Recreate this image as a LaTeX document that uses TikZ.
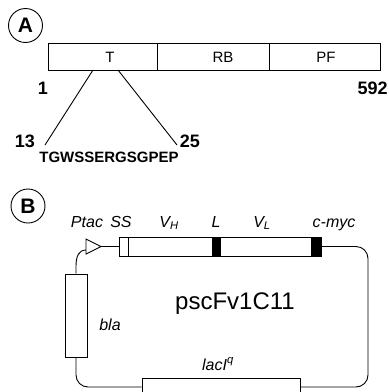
\documentclass[tikz,border=0pt]{standalone}
\usepackage{fontspec}
\setmainfont{Liberation Sans}
\usetikzlibrary{positioning,calc}

\begin{document}
\begin{tikzpicture}[x=1pt, y=-1pt, line width=0.9pt,
  tag/.style={circle, draw, minimum size=34pt, inner sep=0pt, font=\fontsize{21}{24}\selectfont\bfseries},
  seg/.style={draw, minimum height=27pt, inner sep=0pt},
  segtxt/.style={inner sep=0pt, font=\fontsize{15}{18}\selectfont},
  num/.style={inner sep=0pt, font=\fontsize{18}{20}\selectfont\bfseries},
  seq/.style={inner sep=0pt, font=\fontsize{15}{18}\selectfont\bfseries},
  gene/.style={draw, minimum height=19pt, inner sep=0pt},
  genelbl/.style={inner sep=0pt, anchor=base, font=\fontsize{16}{18}\selectfont\itshape},
  box/.style={draw, inner sep=0pt}]
\useasboundingbox (0,0) rectangle (389,392);

% (A) protein domains
\node[tag] (tagA) at (25.5,25.5) {A};
\node[seg, minimum width=109pt] (segT) at (102.5,56.5) {};
\node[seg, minimum width=112pt] (segRB) at (213,56.5) {};
\node[seg, minimum width=111pt] (segPF) at (324.5,56.5) {};
\node[segtxt] (txtT) at (110,57) {T};
\node[segtxt] (txtRB) at (223,57) {RB};
\node[segtxt] (txtPF) at (326,57) {PF};
\node[num] (posFirst) at (43,88) {1};
\node[num, anchor=east] (posLast) at (388,88) {592};

% zoom on the peptide
\coordinate (cutL) at (93,70);
\coordinate (cutR) at (118,70);
\node[num] (res13) at (25,141) {13};
\node[num] (res25) at (190,141) {25};
\coordinate (endL) at (45,145);
\coordinate (endR) at (177,145);
\node[seq] (peptide) at (109,157.5) {TGWSSERGSGPEP};
\draw (cutL) -- (endL);
\draw (cutR) -- (endR);

% (B) plasmid map
\node[tag] (tagB) at (28,206) {B};
\node[gene, minimum width=8.5pt] (ss) at (123.75,246.5) {};
\node[gene, minimum width=84pt] (vh) at (170,246.5) {};
\node[gene, fill=black, minimum width=8pt] (lk) at (216,246.5) {};
\node[gene, minimum width=91pt] (vl) at (265.5,246.5) {};
\node[gene, fill=black, minimum width=10pt] (myc) at (316,246.5) {};

\node[genelbl] (lblPtac) at (87,227) {Ptac};
\node[genelbl] (lblSS) at (121,227) {SS};
\node[genelbl] (lblVH) at (169,227) {V\textsubscript{H}};
\node[genelbl] (lblL) at (216,227) {L};
\node[genelbl] (lblVL) at (262,227) {V\textsubscript{L}};
\node[genelbl] (lblMyc) at (334,227) {c-myc};

% promoter
\coordinate (ptacIn) at (86,250);
\coordinate (ptacTip) at (101,246.5);
\draw (86,239) -- (ptacTip) -- (86,254) -- cycle;
\draw (ptacTip) -- (ss.west);

\node[box, minimum width=22pt, minimum height=83pt] (bla) at (76,315.5) {};
\node[genelbl, anchor=center] (lblBla) at (110,325) {bla};
\node[box, minimum width=158pt, minimum height=18pt] (lac) at (221,387) {};
\node[genelbl] (lblLac) at (218,370) {lacI\textsuperscript{q}};
\node[inner sep=0pt, font=\fontsize{24}{28}\selectfont] (plasmid) at (235,304) {pscFv1C11};

\coordinate (cornerR) at (368,387);
\draw[rounded corners=12pt] (myc.east) -| (cornerR) -- (lac.east);
\draw[rounded corners=12pt] (lac.west) -| (bla.south);
\draw (bla.north) -- (76,266) .. controls (76,256) and (79,250) .. (ptacIn);
\end{tikzpicture}
\end{document}
